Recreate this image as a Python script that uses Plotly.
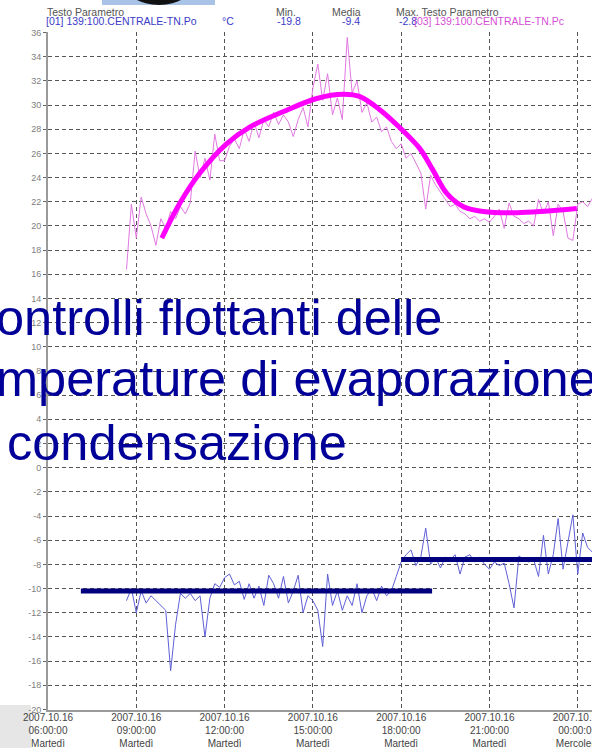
import pandas as pd
import plotly.graph_objects as go

# ---------------- data ----------------
pc_start = "2007-10-16 08:40"
pc_values = [16.4, 21.8,
             19.0, 22.4, 21.0, 20.0, 18.4, 20.6,
             19.8, 21.2, 20.6, 21.6, 21.0, 21.9,
             26.2, 24.0, 25.6, 23.8, 27.6, 25.4,
             25.4, 26.6, 27.2, 26.4, 28.0, 27.0,
             28.6, 27.3, 28.8, 28.2, 29.4, 28.4,
             29.2, 28.6, 27.4, 28.8, 29.8, 28.2,
             31.4, 33.4, 30.4, 32.6, 29.2, 30.6,
             28.8, 35.6, 31.0, 32.0, 29.4, 30.2,
             28.6, 29.0, 27.8, 28.2, 27.0, 26.4,
             26.8, 25.6, 26.0, 25.2, 24.4, 21.4,
             24.2, 23.4, 22.8, 22.2, 21.6, 21.8,
             21.2, 21.0, 20.6, 20.8, 20.4, 20.6,
             20.3, 20.8, 21.4, 19.8, 21.9, 20.8,
             20.6, 20.2, 20.4, 20.0, 22.2, 21.0,
             22.0, 19.2, 21.8, 21.2, 19.0, 18.8,
             21.8, 22.0, 21.6, 22.3]

po_values = [-11.0, -10.0,
             -12.0, -10.2, -11.2, -10.6, -11.0, -11.4,
             -11.8, -16.8, -13.0, -10.4, -10.8, -10.4,
             -11.0, -10.6, -14.0, -10.8, -9.6, -9.9,
             -9.1, -8.8, -9.7, -9.4, -10.9, -9.6,
             -10.8, -9.8, -11.4, -8.9, -9.6, -10.8,
             -9.0, -11.2, -10.2, -8.9, -12.0, -10.6,
             -11.0, -11.8, -14.8, -8.8, -11.4, -10.2,
             -11.8, -10.6, -11.4, -9.6, -12.0, -10.6,
             -10.0, -11.0, -9.8, -10.6, -10.2, -9.0,
             -7.8, -7.2, -6.8, -8.1, -7.4, -5.0,
             -8.0, -7.4, -8.3, -7.4, -7.6, -7.2,
             -8.8, -7.4, -7.2, -7.8, -7.4, -8.0,
             -8.4, -7.8, -8.1, -7.9, -9.6, -11.6,
             -7.3, -7.6, -7.8, -7.6, -9.0, -5.6,
             -8.8, -7.2, -4.2, -8.4, -6.0, -3.9,
             -8.8, -5.4, -6.6, -7.0]

trend_times = ["2007-10-16 09:52", "2007-10-16 10:29", "2007-10-16 11:10",
               "2007-10-16 12:04", "2007-10-16 12:52", "2007-10-16 13:59",
               "2007-10-16 15:08", "2007-10-16 16:02", "2007-10-16 16:36",
               "2007-10-16 17:17", "2007-10-16 17:58", "2007-10-16 18:38",
               "2007-10-16 19:05", "2007-10-16 19:33", "2007-10-16 20:07",
               "2007-10-16 20:47", "2007-10-16 21:55", "2007-10-16 23:58"]
trend_values = [19.0, 21.9, 24.4, 26.8, 28.2, 29.45, 30.55, 30.9, 30.7,
                29.6, 28.1, 26.4, 24.6, 22.7, 21.6, 21.2, 21.1, 21.45]

level1_times = ["2007-10-16 07:07", "2007-10-16 19:03"]
level1_values = [-10.2, -10.2]
level2_times = ["2007-10-16 18:00", "2007-10-17 00:40"]
level2_values = [-7.6, -7.6]

x_tickvals = ["2007-10-16 06:00", "2007-10-16 09:00", "2007-10-16 12:00",
              "2007-10-16 15:00", "2007-10-16 18:00", "2007-10-16 21:00",
              "2007-10-17 00:00"]
x_ticktext = ["2007.10.16<br>06:00:00<br>Martedì",
              "2007.10.16<br>09:00:00<br>Martedì",
              "2007.10.16<br>12:00:00<br>Martedì",
              "2007.10.16<br>15:00:00<br>Martedì",
              "2007.10.16<br>18:00:00<br>Martedì",
              "2007.10.16<br>21:00:00<br>Martedì",
              "2007.10.17<br>00:00:00<br>Mercoledì"]
y_tickvals = [-20, -18, -16, -14, -12, -10, -8, -6, -4, -2, 0, 2, 4, 6, 8, 10,
              12, 14, 16, 18, 20, 22, 24, 26, 28, 30, 32, 34, 36]
y_ticktext = ["-20", "-18", "-16", "-14", "-12", "-10", "-8", "-6", "-4", "-2",
              "0", "2", "4", "6", "8", "10", "12", "14", "16", "18", "20", "22",
              "24", "26", "28", "30", "32", "34", "36"]

title_lines = ["ontrolli flottanti delle", "mperature di evaporazione", "condensazione"]

# ---------------- geometry helpers ----------------
W, H = 592, 748
L, R, T, B = 48, 0, 32, 38
PW, PH = W - L - R, H - T - B


def xp(px):
    return (px - L) / PW


def yp(py):
    return (H - B - py) / PH


times = pd.date_range(pc_start, periods=len(pc_values), freq="10min")

fig = go.Figure()
fig.add_trace(go.Scatter(x=times, y=pc_values, mode="lines",
                         line=dict(color="rgb(225,120,225)", width=1)))
fig.add_trace(go.Scatter(x=times, y=po_values, mode="lines",
                         line=dict(color="rgb(95,95,215)", width=1)))
fig.add_trace(go.Scatter(x=trend_times, y=trend_values, mode="lines",
                         line=dict(color="#ff00ff", width=5, shape="spline", smoothing=1.0)))
fig.add_trace(go.Scatter(x=level1_times, y=level1_values, mode="lines",
                         line=dict(color="#00007f", width=5)))
fig.add_trace(go.Scatter(x=level2_times, y=level2_values, mode="lines",
                         line=dict(color="#00007f", width=5)))

font_fam = "Liberation Sans, Arial, sans-serif"
annotations = []


def ann(text, px, py, color, size, anchor="left"):
    annotations.append(dict(text=text, x=xp(px), y=yp(py), xref="paper", yref="paper",
                            xanchor=anchor, yanchor="middle", showarrow=False,
                            borderpad=0,
                            font=dict(family=font_fam, size=size, color=color)))


gray = "#555555"
blue = "#3b3bc8"
mag = "#d650d6"
ann("Testo Parametro", 46, 12, gray, 10.5)
ann("[01] 139:100.CENTRALE-TN.Po", 45, 21, blue, 10.5)
ann("°C", 221, 21, blue, 10.5)
ann("Min.", 275, 12, gray, 10.5)
ann("-19.8", 276, 21, blue, 10.5)
ann("Media", 331, 12, gray, 10.5)
ann("-9.4", 341, 21, blue, 10.5)
ann("Max. Testo Parametro", 395, 12, gray, 10.5)
ann("-2.8", 398, 21, blue, 10.5)
ann("[03] 139:100.CENTRALE-TN.Pc", 413, 21, mag, 10.5)

ann(title_lines[0], -5, 317, "#000099", 50.5)
ann(title_lines[1], -5, 379, "#000099", 50.5)
ann(title_lines[2], 6, 442, "#000099", 50.5)

shapes = [
    dict(type="rect", xref="paper", yref="paper", x0=xp(0), x1=xp(31), y0=yp(748), y1=yp(705),
         fillcolor="#e6e6e6", line=dict(width=0), layer="below"),
    dict(type="rect", xref="paper", yref="paper", x0=xp(102), x1=xp(215), y0=yp(5), y1=yp(0),
         fillcolor="#a9c3e6", line=dict(width=0), layer="above"),
    dict(type="circle", xref="paper", yref="paper", x0=xp(124), x1=xp(194), y0=yp(5), y1=yp(-40),
         fillcolor="#111111", line=dict(width=0), layer="above"),
]

fig.update_layout(
    width=W, height=H,
    margin=dict(l=L, r=R, t=T, b=B, autoexpand=False),
    paper_bgcolor="white", plot_bgcolor="white",
    showlegend=False,
    annotations=annotations,
    shapes=shapes,
    font=dict(family=font_fam),
)
fig.update_xaxes(
    type="date", automargin=False,
    range=["2007-10-16 06:00", "2007-10-17 00:29"],
    tickmode="array", tickvals=x_tickvals, ticktext=x_ticktext,
    tickfont=dict(size=10, color="#444444"),
    ticklabelstandoff=-3, ticklabeloverflow="allow",
    showgrid=True, gridcolor="#555555", gridwidth=1, griddash="4px,3px",
    showline=True, linecolor="#9a9a9a", linewidth=2,
    ticks="", zeroline=False,
)
fig.update_yaxes(
    automargin=False,
    range=[-20.05, 36.05],
    tickmode="array", tickvals=y_tickvals, ticktext=y_ticktext,
    tickfont=dict(size=9, color="#808080"),
    showgrid=True, gridcolor="#555555", gridwidth=1, griddash="4px,3px",
    showline=True, linecolor="#9a9a9a", linewidth=2,
    ticks="outside", ticklen=3, tickcolor="#666666",
    zeroline=False,
)

fig.write_html("out.html",
               config={"displayModeBar": False},
               post_script="document.body.style.margin='0';document.body.style.overflow='hidden';")
